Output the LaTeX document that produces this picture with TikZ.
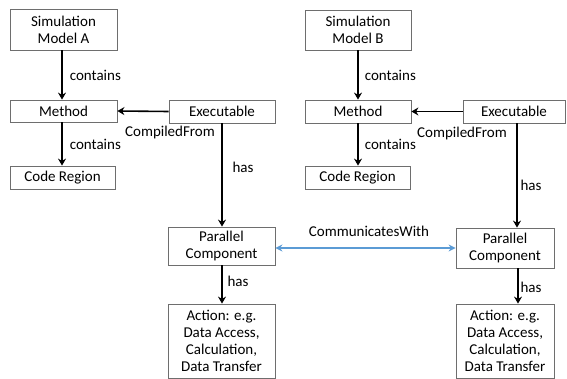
\documentclass[tikz,border=0pt]{standalone}
\usepackage{fontspec}
\setmainfont{Carlito}
\usetikzlibrary{arrows.meta}
\definecolor{officeblue}{RGB}{91,155,213}
\definecolor{boxline}{RGB}{110,110,110}
\begin{document}
\begin{tikzpicture}[x=1pt,y=-1pt,
  box/.style={draw=boxline,line width=0.8pt,fill=white,rectangle,inner sep=0pt,align=center,
    font=\fontsize{15}{17}\selectfont},
  lbl/.style={font=\fontsize{15}{17}\selectfont,inner sep=0pt},
  rel/.style={line width=1.6pt,-{Stealth[length=7pt,width=8pt]}},
  comm/.style={draw=officeblue,line width=1.2pt,{Stealth[length=7pt,width=7pt]}-{Stealth[length=7pt,width=7pt]}}]
\useasboundingbox (0,0) rectangle (567,379);
% left side
\node[box,minimum width=107pt,minimum height=41pt] (simA) at (63.5,29.5) {Simulation\\Model A};
\node[box,minimum width=107pt,minimum height=22pt] (methA) at (63.5,111) {Method};
\node[box,minimum width=105pt,minimum height=23pt] (codeA) at (62.5,177.5) {Code Region};
\node[box,minimum width=106pt,minimum height=23pt] (execA) at (222,111.5) {Executable};
\node[box,minimum width=107pt,minimum height=38pt] (parA) at (221.5,246) {Parallel\\Component};
\node[box,minimum width=107pt,minimum height=74pt] (actA) at (221.5,341) {Action: e.g.\\Data Access,\\Calculation,\\Data Transfer};
% right side
\node[box,minimum width=106pt,minimum height=40pt] (simB) at (358,30) {Simulation\\Model B};
\node[box,minimum width=106pt,minimum height=23pt] (methB) at (358,111.5) {Method};
\node[box,minimum width=105pt,minimum height=23pt] (codeB) at (357.5,177.5) {Code Region};
\node[box,minimum width=102pt,minimum height=23pt] (execB) at (514,111.5) {Executable};
\node[box,minimum width=98pt,minimum height=40pt] (parB) at (505,248) {Parallel\\Component};
\node[box,minimum width=98pt,minimum height=74pt] (actB) at (505,341) {Action: e.g.\\Data Access,\\Calculation,\\Data Transfer};
% connectors left
\draw[rel] (simA.south -| 62,0) -- (methA.north -| 62,0) node[lbl,midway,right=7pt] {contains};
\draw[rel] (methA.south -| 62,0) -- (codeA.north -| 62,0) node[lbl,midway,right=7pt] {contains};
\draw[rel] (execA.west) -- (methA.east);
\node[lbl] (cfA) at (170,133) {CompiledFrom};
\draw[rel] (execA.south -| 222,0) -- (parA.north -| 222,0);
\node[lbl] (hasA1) at (243,167) {has};
\draw[rel] (parA.south -| 222,0) -- (actA.north -| 222,0);
\node[lbl] (hasA2) at (238,281) {has};
% connectors right
\draw[rel] (simB.south -| 358,0) -- (methB.north -| 358,0) node[lbl,midway,right=6pt] {contains};
\draw[rel] (methB.south -| 358,0) -- (codeB.north -| 358,0) node[lbl,midway,right=6pt] {contains};
\draw[rel] (execB.west) -- (methB.east);
\node[lbl] (cfB) at (462,134) {CompiledFrom};
\draw[rel] (execB.south -| 517,0) -- (parB.north -| 517,0);
\node[lbl] (hasB1) at (531,185) {has};
\draw[rel] (parB.south -| 518,0) -- (actB.north -| 518,0);
\node[lbl] (hasB2) at (531,287) {has};
% communication
\draw[comm] (parA.east |- 0,248) -- (parB.west |- 0,248);
\node[lbl] (comm) at (369,231) {CommunicatesWith};
\end{tikzpicture}
\end{document}
